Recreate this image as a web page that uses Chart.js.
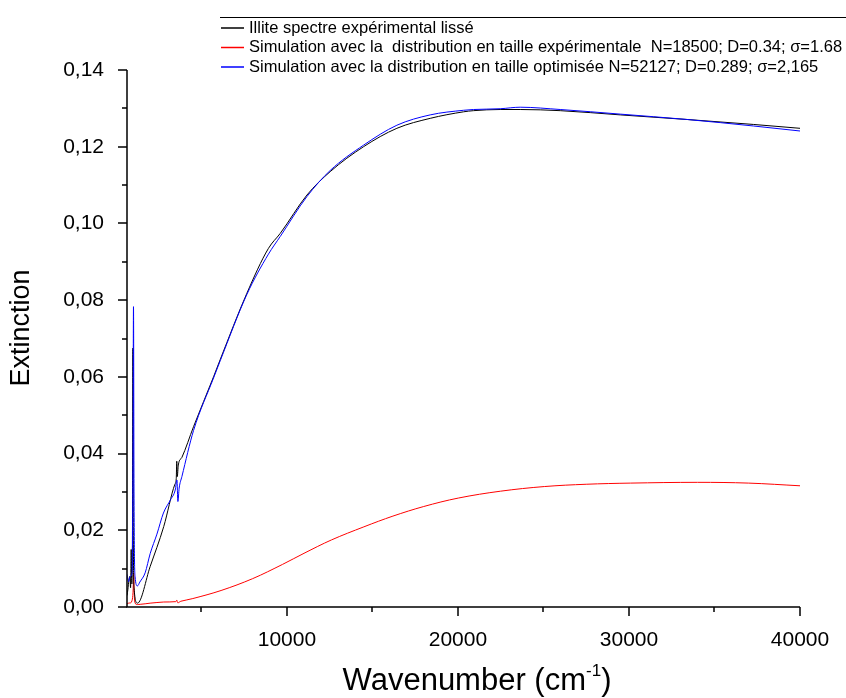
<!DOCTYPE html>
<html>
<head>
<meta charset="utf-8">
<script src="https://cdn.jsdelivr.net/npm/chart.js@4.4.1/dist/chart.umd.min.js"></script>
<style>
    html, body { margin: 0; padding: 0; background: #fff; }
    #wrap { width: 846px; height: 698px; }
</style>
</head>
<body>
<div id="wrap"><canvas id="extChart" width="846" height="698"></canvas></div>
<script>
// Axis ticks
const xMajor = [10000, 20000, 30000, 40000];
const xMinor = [5000, 15000, 25000, 35000];
const yMajor = [0, 0.02, 0.04, 0.06, 0.08, 0.10, 0.12, 0.14];
const yMinor = [0.01, 0.03, 0.05, 0.07, 0.09, 0.11, 0.13];

// Illite spectre expérimental lissé (black)
const xBlack = [650, 700, 760, 820, 860, 895, 930, 970, 995, 1020, 1060, 1263, 2000, 2800, 3450, 3530, 3560, 3590, 3650, 3860, 4540, 5710, 6100, 7660, 8920, 9610, 11170, 12530, 14480, 16430, 18380, 20330, 20910, 22470, 23640, 25980, 29490, 33390, 37290, 40000];
const yBlack = [0.003, 0.0045, 0.007, 0.008, 0.005, 0.015, 0.006, 0.02, 0.0675, 0.02, 0.005, 0.001, 0.0105, 0.021, 0.032, 0.0335, 0.038, 0.034, 0.037, 0.039, 0.047, 0.060, 0.0645, 0.0818, 0.0935, 0.0974, 0.1074, 0.1135, 0.120, 0.1248, 0.1274, 0.1291, 0.1294, 0.1297, 0.1297, 0.1294, 0.1283, 0.1271, 0.1258, 0.1248];

// Simulation, distribution expérimentale (red)
const xRed = [650, 740, 900, 990, 1040, 1080, 1150, 1420, 2000, 2800, 3500, 3560, 3620, 3800, 4500, 6150, 8000, 9740, 11000, 12610, 14500, 16200, 18000, 20020, 22500, 25050, 27500, 30080, 34000, 37000, 40000];
const yRed = [0.0008, 0.001, 0.0012, 0.003, 0.0089, 0.003, 0.0008, 0.0007, 0.001, 0.0013, 0.0014, 0.0018, 0.0011, 0.0015, 0.0022, 0.0043, 0.0074, 0.0111, 0.014, 0.0175, 0.0209, 0.0237, 0.0262, 0.0284, 0.0302, 0.0314, 0.032, 0.0323, 0.0325, 0.0323, 0.0316];

// Simulation, distribution optimisée (blue)
const xBlue = [650, 740, 840, 950, 1000, 1030, 1060, 1120, 1260, 1400, 1710, 2010, 2400, 2780, 3200, 3470, 3570, 3625, 3700, 3860, 4540, 5710, 6100, 7660, 8920, 9610, 11170, 12530, 14480, 16430, 18380, 20330, 20910, 22470, 23640, 25980, 29490, 33390, 37290, 40000];
const yBlue = [0.0085, 0.0066, 0.008, 0.009, 0.04, 0.0783, 0.03, 0.008, 0.0055, 0.0065, 0.0089, 0.014, 0.019, 0.0245, 0.028, 0.0305, 0.0331, 0.0275, 0.031, 0.034, 0.046, 0.0597, 0.0642, 0.0815, 0.092, 0.0966, 0.107, 0.1138, 0.1204, 0.1256, 0.1283, 0.1295, 0.1297, 0.1299, 0.1303, 0.1297, 0.1285, 0.1271, 0.1254, 0.1241];

const legendLabels = [
    'Illite spectre expérimental lissé',
    'Simulation avec la  distribution en taille expérimentale  N=18500; D=0.34; σ=1.68',
    'Simulation avec la distribution en taille optimisée N=52127; D=0.289; σ=2,165'
];
const legendColors = ['#000000', '#ff0000', '#0000ff'];

const toPoints = (xs, ys) => xs.map((x, i) => ({ x: x, y: ys[i] }));
const FONT = '"Liberation Sans", Arial, sans-serif';

// axes frame, tick marks, titles and legend
const framePlugin = {
    id: 'frame',
    afterDraw(chart) {
        const ctx = chart.ctx;
        const area = chart.chartArea;
        const xs = chart.scales.x;
        const ys = chart.scales.y;
        ctx.save();
        ctx.strokeStyle = '#000';
        ctx.lineWidth = 1.5;
        ctx.beginPath();
        ctx.moveTo(area.left, area.top);
        ctx.lineTo(area.left, area.bottom);
        ctx.lineTo(area.right, area.bottom);
        ctx.stroke();

        ctx.beginPath();
        xMajor.forEach(v => {
            const p = Math.round(xs.getPixelForValue(v));
            ctx.moveTo(p, area.bottom); ctx.lineTo(p, area.bottom + 9);
        });
        xMinor.forEach(v => {
            const p = Math.round(xs.getPixelForValue(v));
            ctx.moveTo(p, area.bottom); ctx.lineTo(p, area.bottom + 5);
        });
        yMajor.forEach(v => {
            const p = Math.round(ys.getPixelForValue(v));
            ctx.moveTo(area.left - 9, p); ctx.lineTo(area.left, p);
        });
        yMinor.forEach(v => {
            const p = Math.round(ys.getPixelForValue(v));
            ctx.moveTo(area.left - 5, p); ctx.lineTo(area.left, p);
        });
        ctx.stroke();

        // y title
        ctx.fillStyle = '#000';
        ctx.font = '27px ' + FONT;
        ctx.textAlign = 'center';
        ctx.textBaseline = 'middle';
        ctx.save();
        ctx.translate(22, 328);
        ctx.rotate(-Math.PI / 2);
        ctx.fillText('Extinction', 0, 0);
        ctx.restore();

        // x title with superscript
        const main = 'Wavenumber (cm';
        const sup = '-1';
        const tail = ')';
        ctx.textAlign = 'left';
        ctx.textBaseline = 'alphabetic';
        ctx.font = '31px ' + FONT;
        const w1 = ctx.measureText(main).width;
        const w3 = ctx.measureText(tail).width;
        ctx.font = '17px ' + FONT;
        const w2 = ctx.measureText(sup).width;
        const x0 = 477 - (w1 + w2 + w3) / 2;
        const base = 690;
        ctx.font = '31px ' + FONT;
        ctx.fillText(main, x0, base);
        ctx.font = '17px ' + FONT;
        ctx.fillText(sup, x0 + w1, base - 14);
        ctx.font = '31px ' + FONT;
        ctx.fillText(tail, x0 + w1 + w2, base);

        // legend
        ctx.lineWidth = 1;
        ctx.strokeStyle = '#000';
        ctx.beginPath();
        ctx.moveTo(220, 17.5); ctx.lineTo(846, 17.5);
        ctx.stroke();
        ctx.font = '16.5px ' + FONT;
        ctx.textBaseline = 'middle';
        ctx.lineWidth = 1.5;
        legendLabels.forEach((t, i) => {
            const y = 28 + i * 19.5;
            ctx.strokeStyle = legendColors[i];
            ctx.beginPath();
            ctx.moveTo(221, y); ctx.lineTo(244, y);
            ctx.stroke();
            ctx.fillStyle = '#000';
            ctx.fillText(t, 249, y);
        });
        ctx.restore();
    }
};

const lineStyle = {
    borderWidth: 1,
    pointRadius: 0,
    fill: false,
    cubicInterpolationMode: 'monotone'
};

new Chart(document.getElementById('extChart').getContext('2d'), {
    type: 'line',
    data: {
        datasets: [
            { ...lineStyle, label: legendLabels[2], data: toPoints(xBlue, yBlue), borderColor: '#0000ff' },
            { ...lineStyle, label: legendLabels[0], data: toPoints(xBlack, yBlack), borderColor: '#000000' },
            { ...lineStyle, label: legendLabels[1], data: toPoints(xRed, yRed), borderColor: '#ff0000',
              cubicInterpolationMode: 'default', tension: 0.35 }
        ]
    },
    options: {
        responsive: false,
        animation: false,
        devicePixelRatio: 1,
        layout: { padding: { top: 70, right: 46, left: 0, bottom: 0 } },
        plugins: {
            legend: { display: false },
            tooltip: { enabled: false }
        },
        scales: {
            x: {
                type: 'linear',
                min: 650,
                max: 40000,
                grid: { display: false, drawTicks: true, tickLength: 9 },
                border: { display: false },
                afterBuildTicks: s => { s.ticks = xMajor.map(v => ({ value: v })); },
                afterFit: s => { s.height = 91; },
                ticks: {
                    color: '#000',
                    padding: 12,
                    maxRotation: 0,
                    font: { family: FONT, size: 21 },
                    callback: v => String(v)
                }
            },
            y: {
                type: 'linear',
                min: 0,
                max: 0.14,
                grid: { display: false, drawTicks: true, tickLength: 9 },
                border: { display: false },
                afterBuildTicks: s => { s.ticks = yMajor.map(v => ({ value: v })); },
                afterFit: s => { s.width = 127; },
                ticks: {
                    color: '#000',
                    padding: 14,
                    font: { family: FONT, size: 21 },
                    callback: v => Number(v).toFixed(2).replace('.', ',')
                }
            }
        }
    },
    plugins: [framePlugin]
});
</script>
</body>
</html>
